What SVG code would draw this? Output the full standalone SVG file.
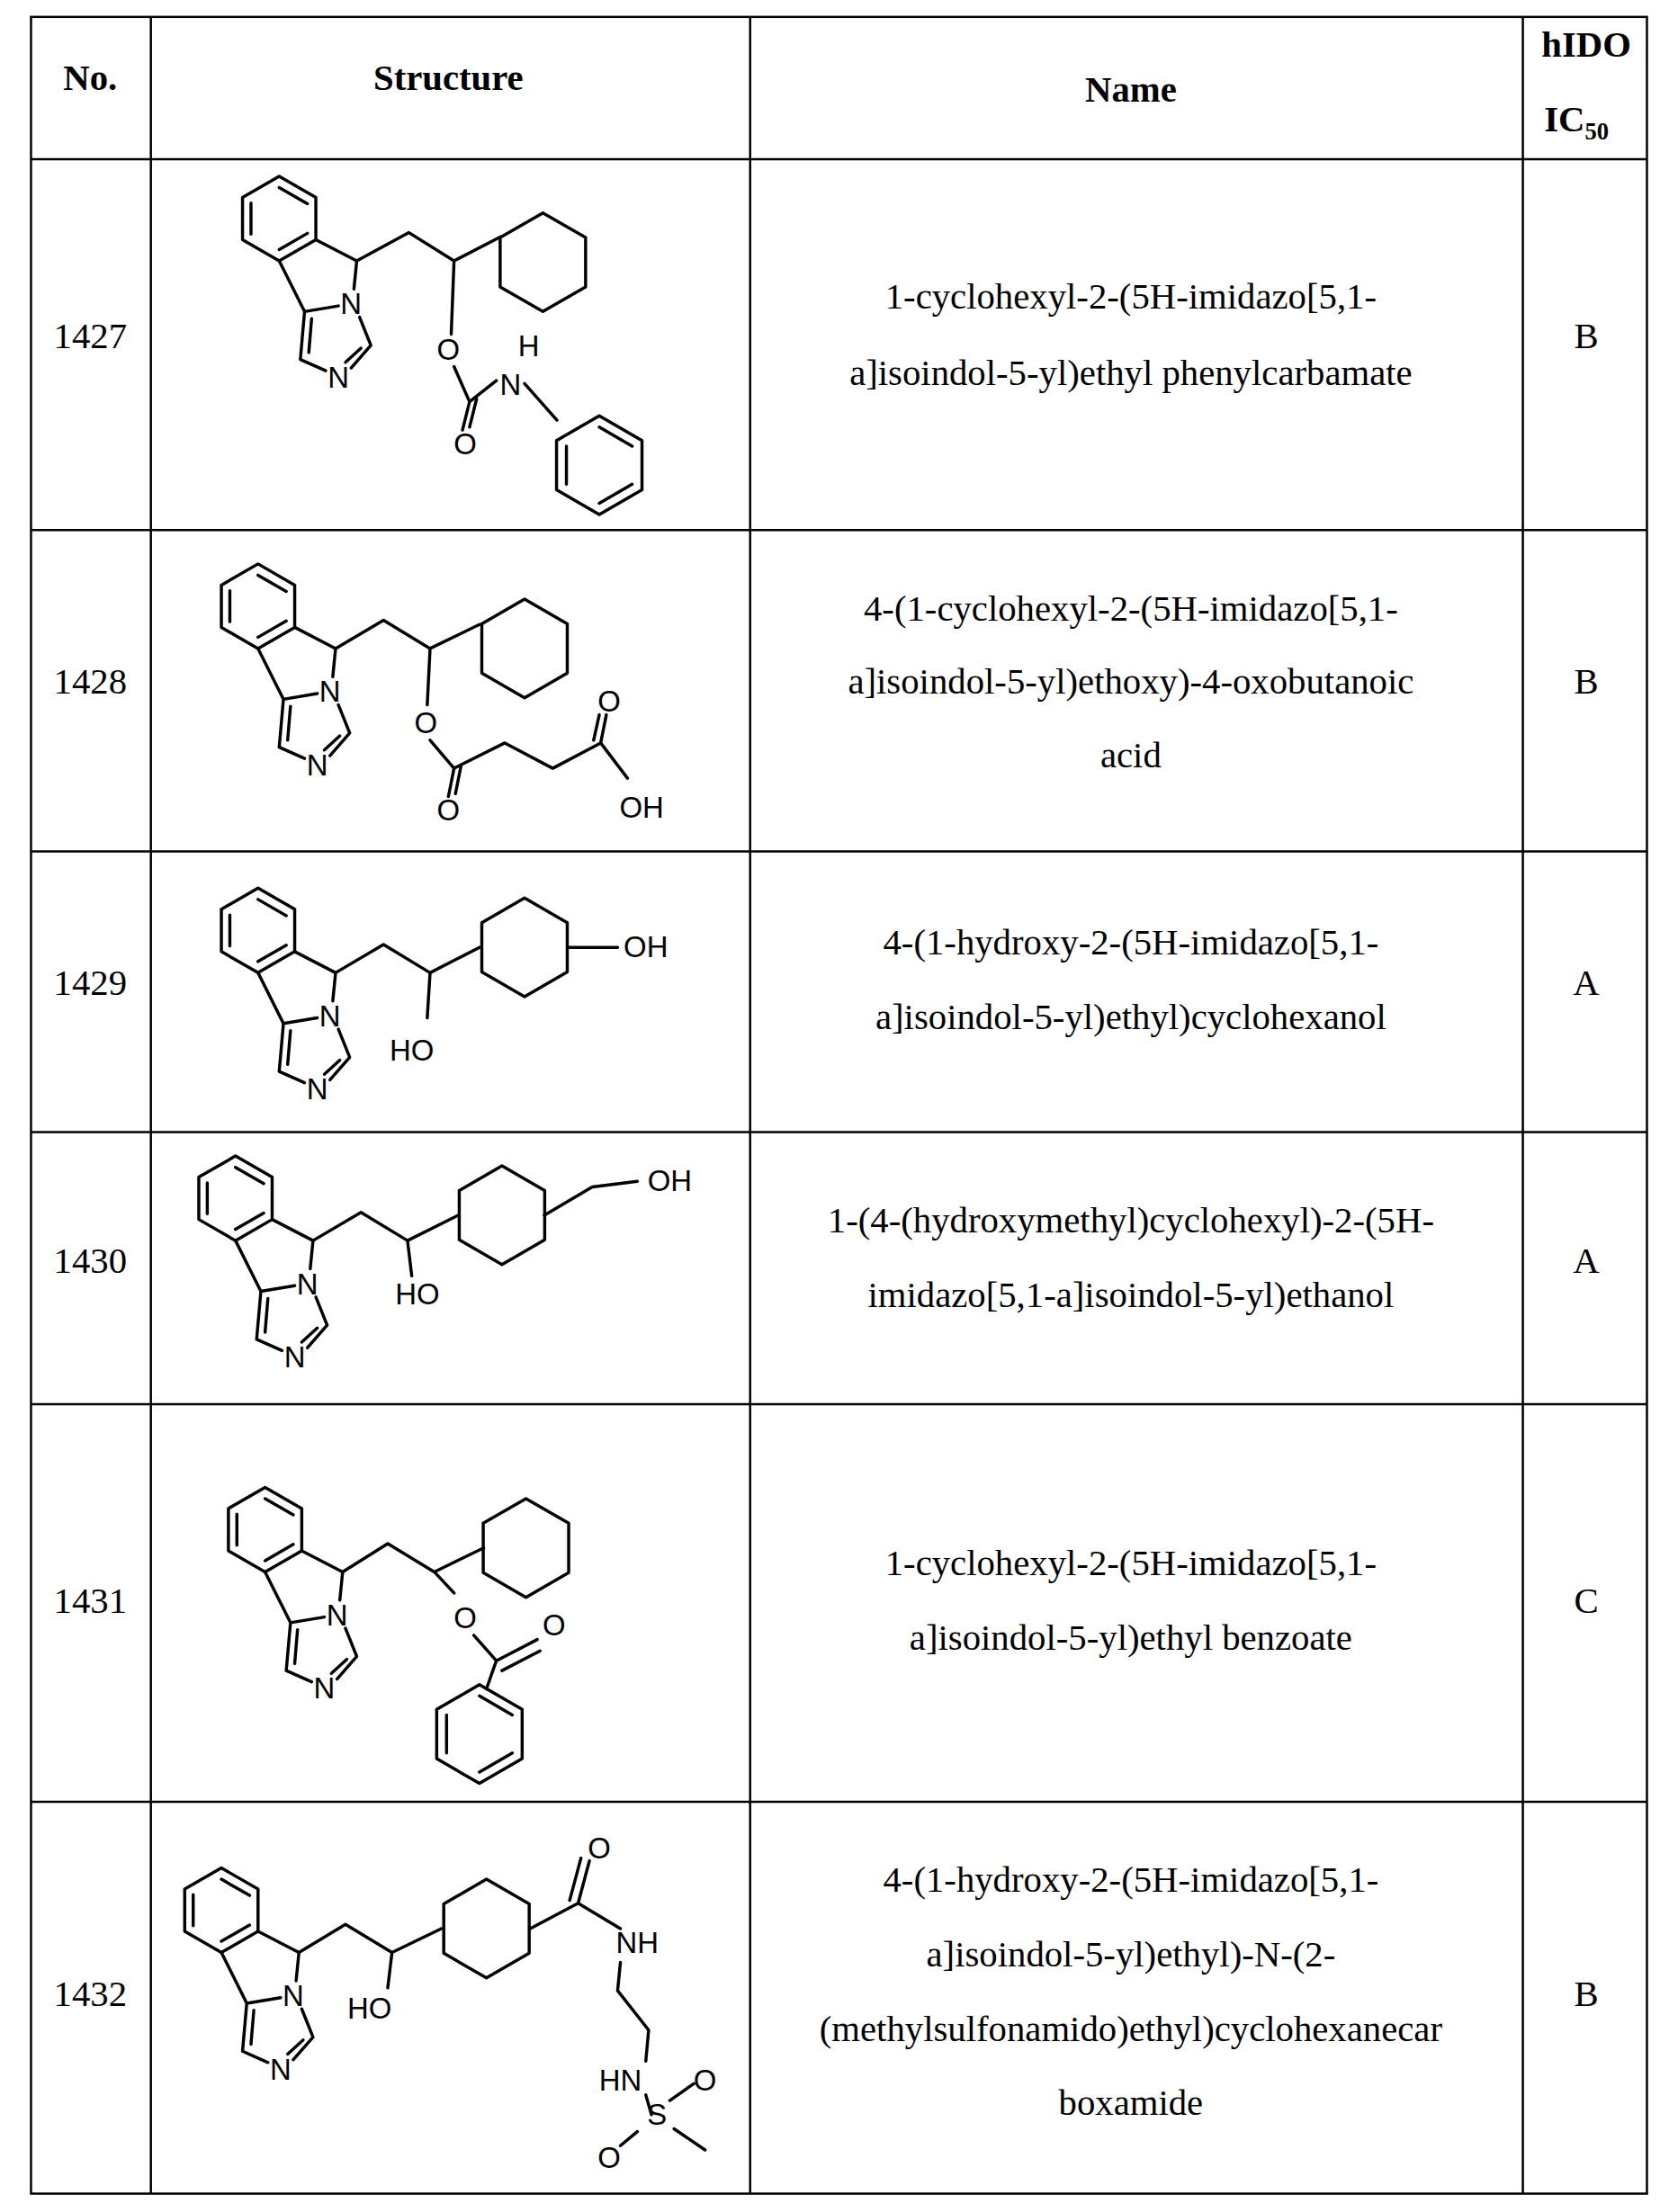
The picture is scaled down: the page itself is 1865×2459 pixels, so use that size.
<svg xmlns="http://www.w3.org/2000/svg" xmlns:xlink="http://www.w3.org/1999/xlink" width="1865" height="2459" viewBox="0 0 1865 2459">
<style>
.t{font-family:"Liberation Serif",serif;font-size:26px;fill:#000}
.h{font-family:"Liberation Serif",serif;font-size:26px;font-weight:bold;fill:#000}
.a{font-family:"Liberation Sans",sans-serif;font-size:21px;fill:#000}
.b{stroke:#000;stroke-width:2.2;fill:none;stroke-linecap:round;stroke-linejoin:round}
.g{stroke:#000;stroke-width:1.6;fill:none}
</style>
<defs>
<polygon id="hex" class="b" points="0,-35 30.3,-17.5 30.3,17.5 0,35 -30.3,17.5 -30.3,-17.5"/>
<g id="ph"><use xlink:href="#hex"/><path class="b" d="M0,-27 L23.3,-13.5 M23.3,13.5 L0,27 M-23.3,13.5 L-23.3,-13.5"/></g>
<g id="core">
<polygon class="b" points="-55,-60 -29,-45 -29,-15 -55,0 -81,-15 -81,-45"/>
<path class="b" d="M-55,-52 L-35,-40.5 M-35,-19.5 L-55,-8 M-75,-19 L-75,-41"/>
<path class="b" d="M-29,-15 L0,0 L-2,20 M-13,32 L-37,36 L-55,0 M-37,36 L-40,70 L-22,78 M-4,76 L10,60 L2,40"/>
<path class="b" d="M-32,41 L-34,65 M3,62 L-8,72"/>
<text class="a" x="-4" y="38" text-anchor="middle">N</text>
<text class="a" x="-13" y="90" text-anchor="middle">N</text>
</g>
</defs>
<g transform="scale(1.5672)">
<g id="table" class="g">
<rect x="22" y="12" width="1146" height="1544"/>
<path d="M107,12 V1556 M532,12 V1556 M1080,12 V1556 M22,113 H1168 M22,376 H1168 M22,604 H1168 M22,803 H1168 M22,996 H1168 M22,1278 H1168"/>
</g>
<g id="header">
<text class="h" x="64" y="64" text-anchor="middle">No.</text>
<text class="h" x="318" y="64" text-anchor="middle">Structure</text>
<text class="h" x="802" y="72" text-anchor="middle">Name</text>
<text class="h" x="1125" y="40" text-anchor="middle">hIDO</text>
<text class="h" x="1118" y="93" text-anchor="middle">IC<tspan font-size="17" dy="6">50</tspan></text>
</g>
<g id="r1427">
<text class="t" x="64" y="247" text-anchor="middle">1427</text>
<text class="t" x="802" y="219" text-anchor="middle">1-cyclohexyl-2-(5H-imidazo[5,1-</text>
<text class="t" x="802" y="273" text-anchor="middle">a]isoindol-5-yl)ethyl phenylcarbamate</text>
<text class="t" x="1125" y="247" text-anchor="middle">B</text>
<use xlink:href="#core" x="253" y="185"/>
<path class="b" d="M253,185 L290,165 L322,185 L355,168 M322,185 L320,237 M322,260 L333,285 L328,305 M338,283 L333,303 M333,285 L352,270 M372,272 L395,298"/>
<use xlink:href="#hex" x="385" y="186"/>
<use xlink:href="#ph" x="425" y="330"/>
<text class="a" x="318" y="255" text-anchor="middle">O</text>
<text class="a" x="330" y="322" text-anchor="middle">O</text>
<text class="a" x="362" y="280" text-anchor="middle">N</text>
<text class="a" x="375" y="253" text-anchor="middle">H</text>
</g>
<g id="r1428">
<text class="t" x="64" y="492" text-anchor="middle">1428</text>
<text class="t" x="802" y="440" text-anchor="middle">4-(1-cyclohexyl-2-(5H-imidazo[5,1-</text>
<text class="t" x="802" y="492" text-anchor="middle">a]isoindol-5-yl)ethoxy)-4-oxobutanoic</text>
<text class="t" x="802" y="544" text-anchor="middle">acid</text>
<text class="t" x="1125" y="492" text-anchor="middle">B</text>
<use xlink:href="#core" x="238" y="460"/>
<path class="b" d="M238,460 L272,440 L305,460 L340,443 M305,460 L303,500 M305,525 L322,545 L318,565 M327,543 L323,563 M322,545 L358,527 L392,545 L426,527 L430,507 M421,525 L425,507 M426,527 L445,552"/>
<use xlink:href="#hex" x="372" y="460"/>
<text class="a" x="302" y="520" text-anchor="middle">O</text>
<text class="a" x="318" y="582" text-anchor="middle">O</text>
<text class="a" x="432" y="505" text-anchor="middle">O</text>
<text class="a" x="455" y="580" text-anchor="middle">OH</text>
</g>
<g id="r1429">
<text class="t" x="64" y="706" text-anchor="middle">1429</text>
<text class="t" x="802" y="677" text-anchor="middle">4-(1-hydroxy-2-(5H-imidazo[5,1-</text>
<text class="t" x="802" y="730" text-anchor="middle">a]isoindol-5-yl)ethyl)cyclohexanol</text>
<text class="t" x="1125" y="706" text-anchor="middle">A</text>
<use xlink:href="#core" x="238" y="690"/>
<path class="b" d="M238,690 L272,670 L305,690 L340,672 M305,690 L303,722 M403,672 L438,672"/>
<use xlink:href="#hex" x="372" y="672"/>
<text class="a" x="292" y="752" text-anchor="middle">HO</text>
<text class="a" x="458" y="679" text-anchor="middle">OH</text>
</g>
<g id="r1430">
<text class="t" x="64" y="903" text-anchor="middle">1430</text>
<text class="t" x="802" y="874" text-anchor="middle">1-(4-(hydroxymethyl)cyclohexyl)-2-(5H-</text>
<text class="t" x="802" y="927" text-anchor="middle">imidazo[5,1-a]isoindol-5-yl)ethanol</text>
<text class="t" x="1125" y="903" text-anchor="middle">A</text>
<use xlink:href="#core" x="222" y="880"/>
<path class="b" d="M222,880 L256,860 L289,880 L325,862 M289,880 L292,905 M386,862 L420,842 L452,838"/>
<use xlink:href="#hex" x="356" y="862"/>
<text class="a" x="296" y="925" text-anchor="middle">HO</text>
<text class="a" x="475" y="845" text-anchor="middle">OH</text>
</g>
<g id="r1431">
<text class="t" x="64" y="1144" text-anchor="middle">1431</text>
<text class="t" x="802" y="1117" text-anchor="middle">1-cyclohexyl-2-(5H-imidazo[5,1-</text>
<text class="t" x="802" y="1170" text-anchor="middle">a]isoindol-5-yl)ethyl benzoate</text>
<text class="t" x="1125" y="1144" text-anchor="middle">C</text>
<use xlink:href="#core" x="243" y="1115"/>
<path class="b" d="M243,1115 L275,1095 L308,1115 L343,1098 M308,1115 L322,1130 M336,1160 L352,1178 L381,1163 M356,1185 L383,1171 M352,1178 L345,1198"/>
<use xlink:href="#hex" x="373" y="1098"/>
<use xlink:href="#ph" x="340" y="1230"/>
<text class="a" x="330" y="1155" text-anchor="middle">O</text>
<text class="a" x="393" y="1160" text-anchor="middle">O</text>
</g>
<g id="r1432">
<text class="t" x="64" y="1423" text-anchor="middle">1432</text>
<text class="t" x="802" y="1342" text-anchor="middle">4-(1-hydroxy-2-(5H-imidazo[5,1-</text>
<text class="t" x="802" y="1395" text-anchor="middle">a]isoindol-5-yl)ethyl)-N-(2-</text>
<text class="t" x="802" y="1448" text-anchor="middle">(methylsulfonamido)ethyl)cyclohexanecar</text>
<text class="t" x="802" y="1500" text-anchor="middle">boxamide</text>
<text class="t" x="1125" y="1423" text-anchor="middle">B</text>
<use xlink:href="#core" x="212" y="1385"/>
<path class="b" d="M212,1385 L245,1365 L278,1385 L313,1368 M278,1385 L275,1410 M376,1368 L410,1350 L418,1320 M404,1348 L412,1318 M410,1350 L440,1368 M440,1392 L438,1412 L460,1440 L458,1462 M458,1486 L462,1500 M475,1490 L492,1478 M452,1512 L440,1522 M478,1510 L500,1525"/>
<use xlink:href="#hex" x="345" y="1368"/>
<text class="a" x="262" y="1432" text-anchor="middle">HO</text>
<text class="a" x="425" y="1318" text-anchor="middle">O</text>
<text class="a" x="452" y="1385" text-anchor="middle">NH</text>
<text class="a" x="440" y="1483" text-anchor="middle">HN</text>
<text class="a" x="466" y="1507" text-anchor="middle">S</text>
<text class="a" x="500" y="1483" text-anchor="middle">O</text>
<text class="a" x="432" y="1538" text-anchor="middle">O</text>
</g>
</g>
</svg>
